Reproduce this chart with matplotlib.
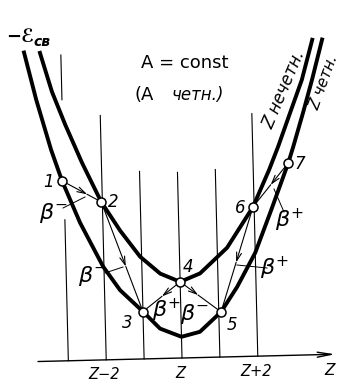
import matplotlib
matplotlib.use('Agg')
import matplotlib.pyplot as plt
from matplotlib.transforms import Affine2D

# isobar (A = const, A even): -E_bind vs Z, two parabolas for even/odd Z
# z is the offset from the central Z, energy in arbitrary units
even_z = [-3.97, -3.68, -3.32, -3.05, -2.60, -2.02, -1.59, -1.00, -0.56, 0.00,
          0.49, 1.06, 1.50, 2.00, 2.45, 2.93, 3.07, 3.35, 3.61, 3.90]
even_e = [8.16, 6.91, 5.58, 4.75, 3.63, 2.46, 1.83, 1.25, 0.79, 0.56,
          0.68, 1.19, 1.84, 2.73, 3.85, 5.08, 5.50, 6.39, 7.26, 8.31]

odd_z = [-3.55, -3.26, -2.93, -2.51, -2.03, -1.55, -1.04, -0.52, 0.00,
         0.53, 1.26, 1.97, 2.42, 2.67, 3.01, 3.34, 3.64]
odd_e = [8.14, 7.11, 6.23, 5.21, 4.17, 3.40, 2.70, 2.24, 2.01,
         2.22, 2.88, 3.94, 4.91, 5.51, 6.40, 7.26, 8.31]

# nuclei 1..7
nuc_z = [-3.05, -2.03, -1.00, 0.00, 1.06, 1.97, 2.93]
nuc_e = [4.75, 4.17, 1.25, 2.01, 1.19, 3.94, 5.08]
nuc_labels = ['1', '2', '3', '4', '5', '6', '7']

# decays: from, to, sign
decays = [(0, 1, '-'), (1, 2, '-'), (3, 2, '+'), (3, 4, '-'), (6, 5, '+'), (5, 4, '+')]

# vertical Z lines (z, bottom, top)
z_lines = [(-3, 0, 3.72), (-3, 6.89, 8.07), (-2, 0, 6.45), (-1, 0, 4.95),
           (0, 0, 4.90), (1, 0, 4.95), (2, 0, 6.40)]

tick_z = [-2, 0, 2]
tick_labels = ['Z\u22122', 'Z', 'Z+2']

W, H = 340, 381     # px
UNIT = 37.9         # px per unit
X0, Y0 = 182, 23    # where z=0, e=0 sits (display px)
TILT = 1.4          # scan is a bit rotated

fig = plt.figure(figsize=(W / 100, H / 100), dpi=100)
ax = fig.add_axes([0, 0, 1, 1])
ax.set_xlim(-X0 / UNIT, (W - X0) / UNIT)
ax.set_ylim(-Y0 / UNIT, (H - Y0) / UNIT)
ax.axis('off')
tr = ax.transData + Affine2D().rotate_deg_around(X0, Y0, TILT)


def px(x, y):
    # position in the picture (px from top left) -> axes fraction
    return x / W, 1 - y / H


# Z grid
for z, y0, y1 in z_lines:
    ax.plot([z, z], [y0, y1], color='black', lw=0.8, transform=tr)

# axis with arrow
ax.annotate('', xy=(4.04, 0), xytext=(-3.80, 0), xycoords=tr, textcoords=tr,
            arrowprops=dict(arrowstyle='->,head_length=1.0,head_width=0.18',
                            lw=1.0, color='black', shrinkA=0, shrinkB=0))
for z, lab in zip(tick_z, tick_labels):
    ax.annotate(lab, (z, 0), xycoords=tr, xytext=(-2, -15), textcoords='offset pixels',
                ha='center', va='center', fontsize=10.5, style='italic')
ax.annotate('Z', (4.04, 0), xycoords=tr, xytext=(-5, -16), textcoords='offset pixels',
            ha='center', va='center', fontsize=11, style='italic')

# parabolas
ax.plot(even_z, even_e, color='black', lw=2.8, transform=tr, solid_joinstyle='round')
ax.plot(odd_z, odd_e, color='black', lw=2.8, transform=tr, solid_joinstyle='round')

# decay arrows, head partway along
head_frac = [0.64, 0.59, 0.49, 0.44, 0.5, 0.53]
for (a, b, sign), f in zip(decays, head_frac):
    za, ea, zb, eb = nuc_z[a], nuc_e[a], nuc_z[b], nuc_e[b]
    hz, he = za + f * (zb - za), ea + f * (eb - ea)
    ax.annotate('', xy=(hz, he), xytext=(za, ea), xycoords=tr, textcoords=tr,
                arrowprops=dict(arrowstyle='->,head_length=0.6,head_width=0.18',
                                lw=0.8, color='black', shrinkA=0, shrinkB=0))
    ax.plot([hz, zb], [he, eb], color='black', lw=0.8, transform=tr)

# beta labels + leader lines
beta_pos = [(54, 213), (93, 276), (167, 310), (195, 314), (290, 220), (275, 268)]
for (a, b, sign), (x, y) in zip(decays, beta_pos):
    ax.text(*px(x, y), r'$\beta^{%s}$' % sign, transform=ax.transAxes,
            ha='center', va='center', fontsize=16)
leaders = [((63, 208), (85, 197)), ((105, 273), (123, 267)),
           ((284, 212), (274, 189)), ((267, 268), (237, 265))]
for p0, p1 in leaders:
    (x0, y0), (x1, y1) = px(*p0), px(*p1)
    ax.plot([x0, x1], [y0, y1], color='black', lw=0.7, transform=ax.transAxes)

# nuclei
ax.plot(nuc_z, nuc_e, 'o', ms=6.5, mfc='white', mec='black', mew=1.1,
        transform=tr, zorder=5)
label_off = [(-14, -1), (12, 0), (-16, -11), (8, 15), (11, -13), (-13, -1), (11, -1)]
for z, e, lab, off in zip(nuc_z, nuc_e, nuc_labels, label_off):
    ax.annotate(lab, (z, e), xycoords=tr, xytext=off, textcoords='offset pixels',
                ha='center', va='center', fontsize=12, style='italic')

# texts
ax.text(*px(6, 37), '\u2212\u2130', transform=ax.transAxes, ha='left', va='center',
        fontsize=13, fontweight='bold')
ax.text(*px(33, 42), 'св', transform=ax.transAxes, ha='left', va='center',
        fontsize=10, fontweight='bold', style='italic')
ax.text(*px(185, 63), 'A = const', transform=ax.transAxes, ha='center', va='center',
        fontsize=13)
ax.text(*px(134, 95), '(A', transform=ax.transAxes, ha='left', va='center',
        fontsize=13)
ax.text(*px(171, 95), 'четн.)', transform=ax.transAxes, ha='left', va='center',
        fontsize=12, style='italic')
ax.text(*px(284, 90), 'Z нечетн.', transform=ax.transAxes, ha='center', va='center',
        fontsize=12, style='italic', rotation=67, rotation_mode='anchor')
ax.text(*px(324, 82), 'Z четн.', transform=ax.transAxes, ha='center', va='center',
        fontsize=11, style='italic', rotation=70, rotation_mode='anchor')

fig.savefig('out.png', dpi=100)
